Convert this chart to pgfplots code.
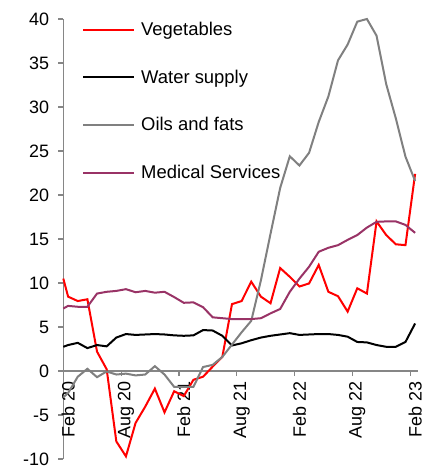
\documentclass[border=0pt]{standalone}
\usepackage{fontspec}
\setmainfont{Liberation Sans}
\usepackage{pgfplots}
\pgfplotsset{compat=1.18}
\definecolor{medpurple}{RGB}{153,51,102}
\definecolor{axgray}{RGB}{134,134,134}
\definecolor{oilgray}{RGB}{128,128,128}

\pgfplotstableread{
x y
0 10.5
0.5 8.45
1.5 7.95
2.5 8.15
3.5 2.2
4.5 0.2
5.5 -8.0
6.5 -9.7
7.5 -5.9
8.5 -4.05
9.5 -2.0
10.5 -4.7
11.5 -2.3
12.5 -2.85
13.5 -1.0
14.5 -0.65
15.5 0.5
16.5 1.6
17.5 7.6
18.5 7.95
19.5 10.15
20.5 8.45
21.5 7.7
22.5 11.7
23.5 10.7
24.5 9.6
25.5 9.95
26.5 12.05
27.5 9.0
28.5 8.5
29.5 6.75
30.5 9.4
31.5 8.8
32.5 17.0
33.5 15.45
34.5 14.4
35.5 14.3
36.5 22.4
}\vegtable

\pgfplotstableread{
x y
0 2.75
0.5 2.95
1.5 3.2
2.5 2.6
3.5 2.95
4.5 2.8
5.5 3.8
6.5 4.2
7.5 4.1
8.5 4.15
9.5 4.2
10.5 4.15
11.5 4.05
12.5 4.0
13.5 4.05
14.5 4.65
15.5 4.6
16.5 4.0
17.5 2.9
18.5 3.15
19.5 3.5
20.5 3.8
21.5 4.0
22.5 4.15
23.5 4.3
24.5 4.1
25.5 4.15
26.5 4.2
27.5 4.2
28.5 4.1
29.5 3.9
30.5 3.3
31.5 3.25
32.5 2.95
33.5 2.75
34.5 2.75
35.5 3.3
36.5 5.4
}\watertable

\pgfplotstableread{
x y
0 -3.0
0.5 -2.5
1.5 -0.65
2.5 0.25
3.5 -0.7
4.5 -0.05
5.5 -0.4
6.5 -0.3
7.5 -0.5
8.5 -0.4
9.5 0.55
10.5 -0.4
11.5 -1.8
12.5 -1.8
13.5 -1.8
14.5 0.45
15.5 0.7
16.5 1.6
17.5 3.0
18.5 4.4
19.5 5.7
20.5 10.3
21.5 15.6
22.5 20.8
23.5 24.4
24.5 23.35
25.5 24.8
26.5 28.3
27.5 31.2
28.5 35.3
29.5 37.1
30.5 39.7
31.5 40.0
32.5 38.1
33.5 32.6
34.5 28.7
35.5 24.35
36.5 21.6
}\oiltable

\pgfplotstableread{
x y
0 7.1
0.5 7.4
1.5 7.3
2.5 7.3
3.5 8.8
4.5 9.0
5.5 9.1
6.5 9.3
7.5 8.95
8.5 9.1
9.5 8.9
10.5 9.0
11.5 8.4
12.5 7.75
13.5 7.8
14.5 7.25
15.5 6.1
16.5 6.0
17.5 5.9
18.5 5.9
19.5 5.9
20.5 6.0
21.5 6.55
22.5 7.05
23.5 9.0
24.5 10.5
25.5 11.85
26.5 13.55
27.5 14.0
28.5 14.3
29.5 14.9
30.5 15.45
31.5 16.3
32.5 16.95
33.5 17.0
34.5 17.0
35.5 16.6
36.5 15.7
}\medtable

\begin{document}
\begin{tikzpicture}
\useasboundingbox (0,0) rectangle (431bp,468bp);
\begin{axis}[
  at={(63.3bp,9bp)}, anchor=south west,
  scale only axis, width=354.7bp, height=440bp,
  xmin=0, xmax=36.8, ymin=-10, ymax=40,
  axis x line=middle, axis y line=left,
  axis line style={draw=axgray, line width=1.3bp, -},
  ytick={-10,-5,...,40},
  xtick={0,6,...,36},
  xticklabels={},
  extra x ticks={0.5,6.5,12.5,18.5,24.5,30.5,36.5},
  extra x tick labels={Feb 20,Aug 20,Feb 21,Aug 21,Feb 22,Aug 22,Feb 23},
  extra x tick style={major tick length=0pt},
  xticklabel style={rotate=90, anchor=east, inner sep=0pt},
  xticklabel shift=10bp,
  yticklabel style={anchor=east, inner sep=0pt, xshift=-9bp},
  tick style={draw=axgray, line width=1.2bp},
  major tick length=5bp,
  tick align=outside,
  hide obscured x ticks=false,
  hide obscured y ticks=false,
  tick label style={font=\fontsize{18}{21}\selectfont},
  /pgf/number format/assume math mode=true,
  clip=false,
  legend style={at={(axis description cs:0.0527,0.997)}, anchor=north west,
    draw=none, fill=none, font=\fontsize{18.5}{21}\selectfont, row sep=28.7bp,
    column sep=4bp, inner sep=0pt, cells={anchor=west}},
  legend image code/.code={\draw[#1] (0bp,0bp) -- (51bp,0bp);},
  every axis plot/.append style={line width=2bp},
]
\addplot[red, no marks] table {\vegtable};
\addlegendentry{Vegetables}
\addplot[black, no marks] table {\watertable};
\addlegendentry{Water supply}
\addplot[oilgray, no marks] table {\oiltable};
\addlegendentry{Oils and fats}
\addplot[medpurple, no marks] table {\medtable};
\addlegendentry{Medical Services}
\end{axis}
\end{tikzpicture}
\end{document}
